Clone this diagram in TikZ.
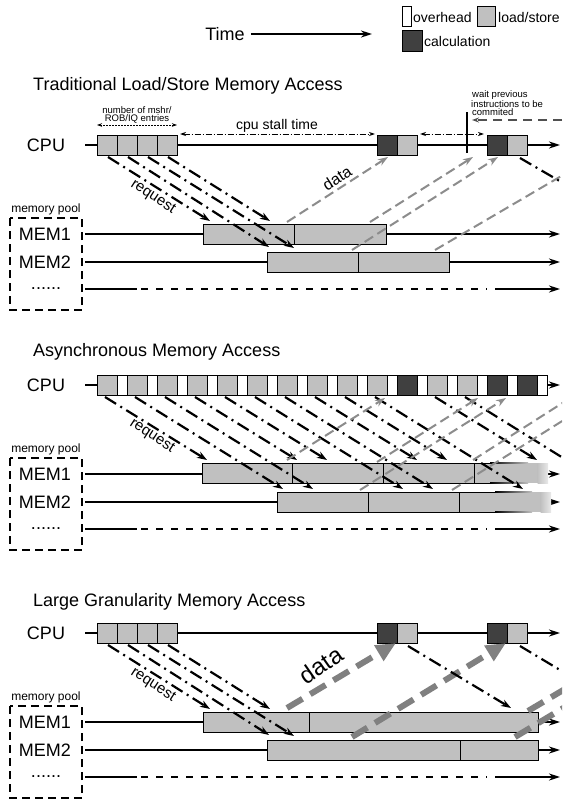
\documentclass[tikz,border=0pt]{standalone}
\usepackage{fontspec}
\setmainfont{Liberation Sans}
\usetikzlibrary{arrows.meta}
\definecolor{lsgray}{RGB}{192,192,192}
\definecolor{calcgray}{RGB}{64,64,64}
\definecolor{datagray}{RGB}{140,140,140}
\definecolor{bigdata}{RGB}{128,128,128}
\definecolor{waitgray}{RGB}{80,80,80}
\tikzset{
  big/.style={font=\fontsize{18}{20}\selectfont, inner sep=0pt},
  sectitle/.style={big, anchor=west},
  legendtxt/.style={font=\fontsize{14}{16}\selectfont, inner sep=0pt, anchor=west},
  tinytxt/.style={font=\fontsize{9.5}{9}\selectfont, inner sep=0pt},
  pooltxt/.style={font=\fontsize{12}{14}\selectfont, inner sep=0pt},
  reqtxt/.style={font=\fontsize{15}{16}\selectfont, inner sep=0pt, rotate=-33},
  timeline/.style={line width=2pt, -{Stealth[length=11pt,width=7pt]}},
  plainline/.style={line width=2pt},
  dotrow/.style={line width=2pt, dash pattern=on 7pt off 8pt},
  poolbox/.style={line width=2pt, dash pattern=on 8pt off 5pt},
  boxline/.style={line width=1pt},
  req/.style={line width=2.2pt, dash pattern=on 13pt off 5pt on 2pt off 5pt, -{Stealth[length=10pt,width=7pt]}},
  reqnohead/.style={line width=2.2pt, dash pattern=on 13pt off 5pt on 2pt off 5pt},
  dataarr/.style={datagray, line width=2pt, dash pattern=on 10pt off 5pt, -{Stealth[length=10pt,width=7pt]}},
  datanohead/.style={datagray, line width=2pt, dash pattern=on 10pt off 5pt},
  bigdataarr/.style={bigdata, line width=6pt, dash pattern=on 18pt off 9pt, -{Triangle[length=20pt,width=17pt]}},
  bigdatanohead/.style={bigdata, line width=6pt, dash pattern=on 18pt off 9pt},
  stall/.style={line width=1pt, dash pattern=on 6pt off 2pt on 1pt off 2pt, {Stealth[length=6pt,width=4pt]}-{Stealth[length=6pt,width=4pt]}},
  entries/.style={line width=0.8pt, dash pattern=on 1.5pt off 1.5pt, {Stealth[length=5pt,width=3.5pt]}-{Stealth[length=5pt,width=3.5pt]}},
  waitarr/.style={waitgray, line width=1.2pt, dash pattern=on 9pt off 6pt, -{Stealth[length=7pt,width=5pt]}},
}
\newcommand\sectionbase[2]{%
\begin{scope}[shift={(0,#1)}]
  \node[big] (cpu#2) at (46,145) {CPU};
  \node[pooltxt] (pool#2) at (46,209) {memory pool};
  \node[big] (memA#2) at (45,234) {MEM1};
  \node[big] (memB#2) at (45,262) {MEM2};
  \node[big] (more#2) at (46,289) {......};
  \draw[poolbox] (10,218) rectangle (82,310);
  \draw[timeline] (85,145) -- (560,145);
  \draw[timeline] (85,234) -- (560,234);
  \draw[timeline] (85,262) -- (560,262);
  \draw[plainline] (85,289) -- (137,289);
  \draw[dotrow] (141,289) -- (487,289);
  \draw[timeline] (495,289) -- (560,289);
\end{scope}}
\begin{document}
\begin{tikzpicture}[x=1pt,y=-1pt]
\useasboundingbox[fill=white] (0,0) rectangle (562,800);
\clip (0,0) rectangle (562,800);

% ---------- legend ----------
\node[big] (time) at (225,34) {Time};
\coordinate (timeend) at (372,34);
\draw[timeline] (time.east) ++(6,0) -- (timeend);
\draw[boxline, fill=white] (402,7) rectangle (411,27);
\node[legendtxt] (ovh) at (413,17) {overhead};
\draw[boxline, fill=lsgray] (477,7) rectangle (495,27);
\node[legendtxt] (lst) at (498,17) {load/store};
\draw[boxline, fill=calcgray] (402,31) rectangle (422,52);
\node[legendtxt] (cal) at (424,41) {calculation};

% ================= Section 1 =================
\node[sectitle] (t1) at (33,86) {Traditional Load/Store Memory Access};
\sectionbase{0}{a}
\node[tinytxt] (nm1) at (137,110) {number of mshr/};
\node[tinytxt] (nm2) at (137,119) {ROB/IQ entries};
\draw[entries] (97,125) -- (177,125);
\node[font=\fontsize{14}{16}\selectfont, inner sep=0pt] (stl) at (277,126) {cpu stall time};
\draw[stall] (180,134) -- (375,134);
\draw[stall] (420,134) -- (484,134);
\draw[line width=2pt] (467,112) -- (467,153);
\node[tinytxt, anchor=west] (w1) at (472,95) {wait previous};
\node[tinytxt, anchor=west] (w2) at (471,104) {instructions to be};
\node[tinytxt, anchor=west] (w3) at (472,112.5) {commited};
\draw[waitarr] (562,120) -- (472,120);
\foreach \i in {0,...,3} \draw[boxline, fill=lsgray] ({97+20*\i},135) rectangle ++(20,20);
\draw[boxline, fill=calcgray] (377,135) rectangle (397,155);
\draw[boxline, fill=lsgray] (397,135) rectangle (417,155);
\draw[boxline, fill=calcgray] (487,135) rectangle (507,155);
\draw[boxline, fill=lsgray] (507,135) rectangle (527,155);
\draw[boxline, fill=lsgray] (203,224) rectangle (386,244);
\draw[boxline] (294,224) -- (294,244);
\draw[boxline, fill=lsgray] (267,252) rectangle (449,272);
\draw[boxline] (358,252) -- (358,272);
\draw[req] (108,157) -- (210,221);
\draw[req] (128,157) -- (269,247);
\draw[req] (148,157) -- (294,248);
\draw[req] (168,157) -- (270,221);
\node[reqtxt] (r1) at (153,197) {request};
\draw[dataarr] (287,222) -- (388,157);
\draw[dataarr] (370,222) -- (473,157);
\draw[dataarr] (352,250) -- (498,157);
\draw[datanohead] (435,250) -- (575,168);
\node[font=\fontsize{16}{18}\selectfont, inner sep=0pt, rotate=33] (d1) at (337,178) {data};
\draw[reqnohead] (520,158) -- (575,190);

% ================= Section 2 =================
\node[sectitle] (t2) at (33,352) {Asynchronous Memory Access};
\sectionbase{240}{b}
\foreach \k/\c in {0/lsgray,1/lsgray,2/lsgray,3/lsgray,4/lsgray,5/lsgray,6/lsgray,7/lsgray,8/lsgray,9/lsgray,10/calcgray,11/lsgray,12/lsgray,13/calcgray,14/calcgray}{
  \draw[boxline, fill=\c] ({97+30*\k},375) rectangle ++(20,20);
  \draw[boxline, fill=white] ({117+30*\k},375) rectangle ++(10,20);
}
\fill[lsgray] (202,463) rectangle (538,483);
\shade[left color=lsgray, right color=lsgray!35] (537.5,463) rectangle (548,483);
\draw[boxline] (490,463) -- (202,463) -- (202,483) -- (490,483);
\shade[left color=black, right color=lsgray] (490,462.5) rectangle (528,463.5);
\shade[left color=black, right color=lsgray] (490,482.5) rectangle (528,483.5);
\foreach \x in {292,383,474} \draw[boxline] (\x,463) -- (\x,483);
\fill[lsgray] (277,492) rectangle (541,512);
\shade[left color=lsgray, right color=lsgray!35] (540.5,492) rectangle (551,512);
\draw[boxline] (495,492) -- (277,492) -- (277,512) -- (495,512);
\shade[left color=black, right color=lsgray] (495,491.5) rectangle (532,492.5);
\shade[left color=black, right color=lsgray] (495,511.5) rectangle (532,512.5);
\foreach \x in {368,459} \draw[boxline] (\x,492) -- (\x,512);
\foreach \k/\dx/\ey in {0/102/460,1/148/489,2/148/489,3/102/460,4/102/460,5/148/489,6/148/489,7/102/460,8/102/460,9/148/489,11/102/460,12/148/489}
  \draw[req] ({105+30*\k},397) -- ({105+30*\k+\dx},\ey);
\node[reqtxt] (r2) at (152,436) {request};
\draw[dataarr] (287,460) -- (385,398);
\draw[dataarr] (377,462) -- (478,398);
\draw[dataarr] (360,490) -- (506,398);
\draw[datanohead] (473,460) -- (575,395);
\draw[datanohead] (452,490) -- (575,413);

% ================= Section 3 =================
\node[sectitle] (t3) at (33,602) {Large Granularity Memory Access};
\sectionbase{488}{c}
\foreach \i in {0,...,3} \draw[boxline, fill=lsgray] ({97+20*\i},623) rectangle ++(20,20);
\draw[boxline, fill=calcgray] (377,623) rectangle (397,643);
\draw[boxline, fill=lsgray] (397,623) rectangle (417,643);
\draw[boxline, fill=calcgray] (487,623) rectangle (507,643);
\draw[boxline, fill=lsgray] (507,623) rectangle (527,643);
\draw[boxline, fill=lsgray] (203,712) rectangle (538,732);
\draw[boxline] (309,712) -- (309,732);
\draw[boxline, fill=lsgray] (267,740) rectangle (538,760);
\draw[boxline] (460,740) -- (460,760);
\draw[req] (108,645) -- (210,709);
\draw[req] (128,645) -- (269,735);
\draw[req] (148,645) -- (294,736);
\draw[req] (168,645) -- (270,709);
\node[reqtxt] (r3) at (153,685) {request};
\draw[bigdataarr] (287,708) -- (396,643);
\draw[bigdataarr] (352,737) -- (506,643);
\draw[bigdatanohead] (515,737) -- (575,701);
\draw[bigdatanohead] (528,711) -- (575,683);
\node[font=\fontsize{24}{26}\selectfont, inner sep=0pt, rotate=35] (d3) at (321,665) {data};
\draw[req] (408,646) -- (511,708);
\draw[reqnohead] (520,646) -- (575,679);
\end{tikzpicture}
\end{document}
